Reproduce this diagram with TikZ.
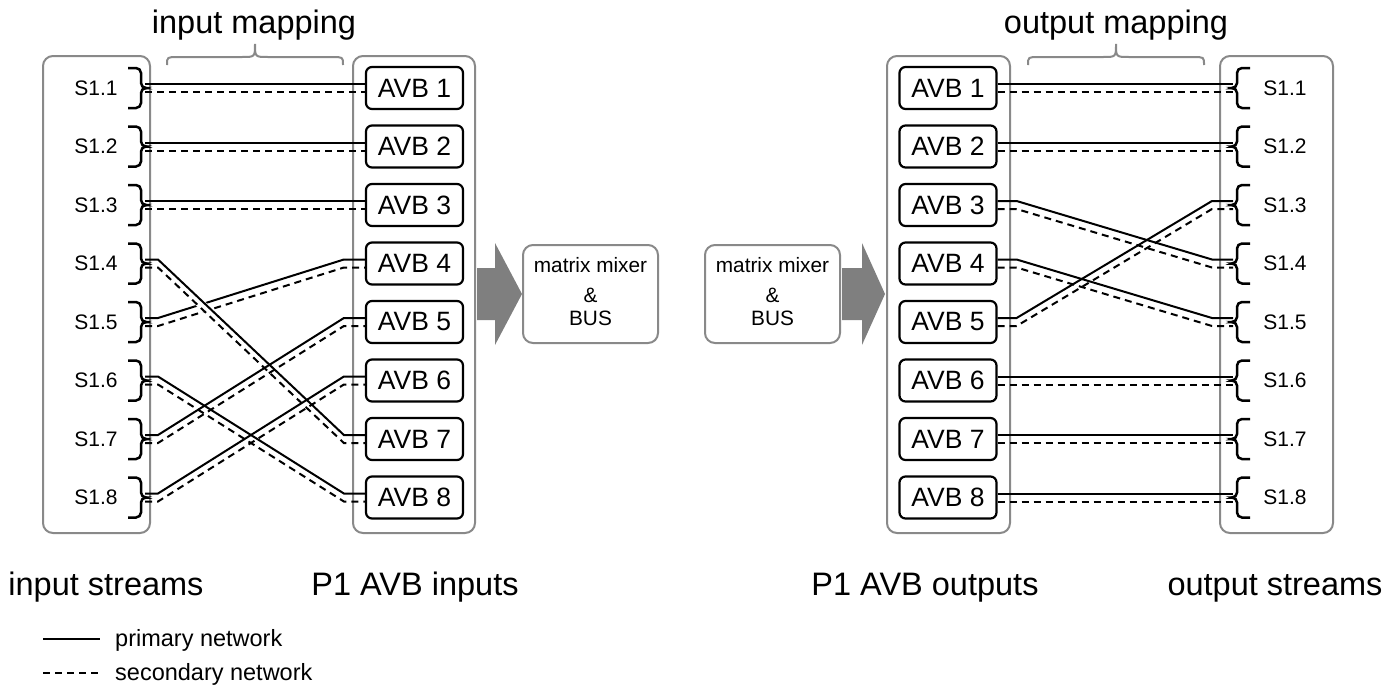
\documentclass[tikz,border=0pt]{standalone}
\usepackage{fontspec}
\setmainfont{Liberation Sans}
\definecolor{contgray}{HTML}{898989}
\definecolor{arrgray}{HTML}{7F7F7F}
\newcommand\straightconn[2]{%
  \draw[prim] ([shift={(0,-4)}]#1) -- ([shift={(0,-4)}]#2);
  \draw[sec] ([shift={(0,4)}]#1) -- ([shift={(0,4)}]#2);}
\newcommand\crossconn[4]{%
  \draw[prim] ([shift={(0,-4)}]#1) -- ([shift={(#3,-4)}]#1) -- ([shift={(#4,-4)}]#2) -- ([shift={(0,-4)}]#2);
  \draw[sec] ([shift={(0,4)}]#1) -- ([shift={(#3,4)}]#1) -- ([shift={(#4,4)}]#2) -- ([shift={(0,4)}]#2);}
\begin{document}
\begin{tikzpicture}[x=1pt,y=-1pt,
  prim/.style={line width=2pt, black},
  sec/.style={line width=2pt, black, dash pattern=on 7pt off 5pt},
  cont/.style={draw=contgray, line width=2pt, rounded corners=10pt, inner sep=0pt},
  avb/.style={draw, fill=white, line width=2.2pt, rounded corners=6pt, minimum width=97pt, minimum height=42pt, inner sep=0pt, font=\fontsize{26.5}{30}\selectfont},
  slab/.style={inner sep=0pt, font=\fontsize{21}{24}\selectfont},
  mix/.style={draw=contgray, line width=2pt, rounded corners=10pt, minimum width=135pt, minimum height=98pt, inner sep=0pt},
  mtext/.style={inner sep=0pt, anchor=base, font=\fontsize{20.8}{24}\selectfont},
  ttl/.style={inner sep=0pt, anchor=base, font=\fontsize{32.5}{36}\selectfont},
  brk/.style={line width=2.5pt, rounded corners=5pt},
  mbrace/.style={draw=contgray, line width=2pt},
  legtext/.style={inner sep=0pt, anchor=base west, font=\fontsize{23.5}{26}\selectfont}]
\useasboundingbox (0,0) rectangle (1391,691);

% containers
\node[cont, minimum width=107pt, minimum height=477pt] (inS) at (96.5,294.5) {};
\node[cont, minimum width=122pt, minimum height=477pt] (inA) at (414,294.5) {};
\node[cont, minimum width=123pt, minimum height=477pt] (outA) at (948.5,294.5) {};
\node[cont, minimum width=113pt, minimum height=477pt] (outS) at (1276.5,294.5) {};

% rows
\foreach \i in {1,...,8} {
  \pgfmathsetmacro\rowy{88+(\i-1)*58.5}
  \coordinate (bL\i) at (145,\rowy);
  \coordinate (bR\i) at (1233,\rowy);
  \node[avb] (ai\i) at (414.5,\rowy) {AVB \i};
  \node[avb] (ao\i) at (948,\rowy) {AVB \i};
  \node[slab] (sl\i) at (96,\rowy) {S1.\i};
  \node[slab] (sr\i) at (1285,\rowy) {S1.\i};
  \draw[brk] ([shift={(-17,-20)}]bL\i) -- ([shift={(-4,-20)}]bL\i) -- ([shift={(-4,0)}]bL\i) -- (bL\i);
  \draw[brk] ([shift={(-17,20)}]bL\i) -- ([shift={(-4,20)}]bL\i) -- ([shift={(-4,0)}]bL\i) -- (bL\i);
  \draw[brk] ([shift={(17,-20)}]bR\i) -- ([shift={(4,-20)}]bR\i) -- ([shift={(4,0)}]bR\i) -- (bR\i);
  \draw[brk] ([shift={(17,20)}]bR\i) -- ([shift={(4,20)}]bR\i) -- ([shift={(4,0)}]bR\i) -- (bR\i);
}

% input mapping connections
\straightconn{bL1}{ai1.west}
\straightconn{bL2}{ai2.west}
\straightconn{bL3}{ai3.west}
\crossconn{bL5}{ai4.west}{13}{-21}
\draw[white, line width=9pt, shorten <=12pt, shorten >=12pt] ([shift={(13,0)}]bL4) -- ([shift={(-21,0)}]ai7.west);
\crossconn{bL4}{ai7.west}{13}{-21}
\crossconn{bL6}{ai8.west}{13}{-21}
\crossconn{bL7}{ai5.west}{13}{-21}
\crossconn{bL8}{ai6.west}{13}{-21}

% output mapping connections
\straightconn{ao1.east}{bR1}
\straightconn{ao2.east}{bR2}
\crossconn{ao3.east}{bR4}{19}{-21}
\crossconn{ao4.east}{bR5}{19}{-21}
\crossconn{ao5.east}{bR3}{19}{-21}
\straightconn{ao6.east}{bR6}
\straightconn{ao7.east}{bR7}
\straightconn{ao8.east}{bR8}

% mapping braces
\draw[mbrace] (167,65) .. controls (167,57) .. (178,57) -- (242,57) .. controls (255,57) .. (255,44) .. controls (255,57) .. (268,57) -- (332,57) .. controls (343,57) .. (343,65);
\draw[mbrace] (1028,65) .. controls (1028,57) .. (1039,57) -- (1103,57) .. controls (1116,57) .. (1116,44) .. controls (1116,57) .. (1129,57) -- (1193,57) .. controls (1204,57) .. (1204,65);
\node[ttl] (tin) at (254,33) {input mapping};
\node[ttl] (tout) at (1116,33) {output mapping};

% mixers
\node[mix] (mixL) at (590.5,294) {};
\node[mix] (mixR) at (772.5,294) {};
\node[mtext] (mL1) at (590.5,272) {matrix mixer};
\node[mtext] (mL2) at (590.5,302) {\&};
\node[mtext] (mL3) at (590.5,325) {BUS};
\node[mtext] (mR1) at (772.5,272) {matrix mixer};
\node[mtext] (mR2) at (772.5,302) {\&};
\node[mtext] (mR3) at (772.5,325) {BUS};

% big arrows
\fill[arrgray] (477,268) -- (495,268) -- (495,243) -- (522,294) -- (495,345) -- (495,320) -- (477,320) -- cycle;
\fill[arrgray] (842,268) -- (862,268) -- (862,243) -- (885,294) -- (862,345) -- (862,320) -- (842,320) -- cycle;

% bottom labels
\node[ttl] (lis) at (106,595) {input streams};
\node[ttl] (lai) at (415,595) {P1 AVB inputs};
\node[ttl] (lao) at (925,595) {P1 AVB outputs};
\node[ttl] (los) at (1275,595) {output streams};

% legend
\coordinate (lg1a) at (43,639);
\coordinate (lg1b) at (100,639);
\coordinate (lg2a) at (43,673);
\coordinate (lg2b) at (100,673);
\draw[prim] (lg1a) -- (lg1b);
\draw[sec] (lg2a) -- (lg2b);
\node[legtext] (lgt1) at (115,646) {primary network};
\node[legtext] (lgt2) at (115,680) {secondary network};
\end{tikzpicture}
\end{document}
